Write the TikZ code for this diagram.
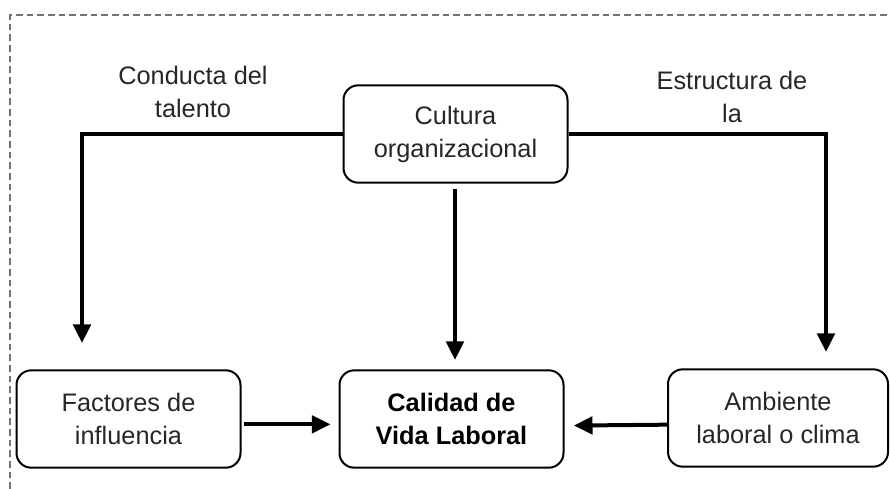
\documentclass[tikz,border=0pt]{standalone}
\usepackage{fontspec}
\setmainfont{Liberation Sans}
\usetikzlibrary{arrows.meta}
\begin{document}
\begin{tikzpicture}[x=0.75pt,y=-0.75pt,n/.style={rectangle,draw,line width=1.5pt,rounded corners=11pt,minimum width=168pt,minimum height=73pt,align=center,text=black!85,font=\fontsize{19}{24.75}\selectfont},e/.style={draw,line width=3pt,-{Triangle[length=14pt,width=13pt]}},t/.style={rectangle,draw=none,align=center,text=black!85,font=\fontsize{19}{24.75}\selectfont},f/.style={draw=black!55,line width=1pt,dash pattern=on 5pt off 3pt}]
\useasboundingbox (0,0) rectangle (890,489);

\path[f] (10,489) -- (10,15) -- (890,15);

\node[n] (cult) at (455.5,134) {Cultura\\organizacional};
\node[n] (fact) at (128.5,419) {Factores de\\influencia};
\node[n, text=black, font=\fontsize{19}{24.75}\selectfont\bfseries] (cal) at (451.5,419) {Calidad de\\Vida Laboral};
\node[n, minimum width=165pt] (amb) at (778,418) {Ambiente\\laboral o clima};

\node[t] (lblL) at (193,92) {Conducta del\\talento};
\node[t] (lblR) at (732,97) {Estructura de\\la};

\coordinate (tipL) at (82,343);
\coordinate (tipR) at (826,352);
\coordinate (tipC) at (455,360);

\path[e] (cult.west) -| (tipL);
\path[e] (cult.east) -| (tipR);
\path[e, shorten <=4pt] (cult.south -| tipC) -- (tipC);
\path[e, shorten <=2pt, shorten >=6pt] ([yshift=-4pt] fact.east) -- ([yshift=-4pt] cal.west);
\path[e, shorten >=7pt] ([yshift=-5pt] amb.west) -- ([yshift=-5pt] cal.east);

\end{tikzpicture}
\end{document}
